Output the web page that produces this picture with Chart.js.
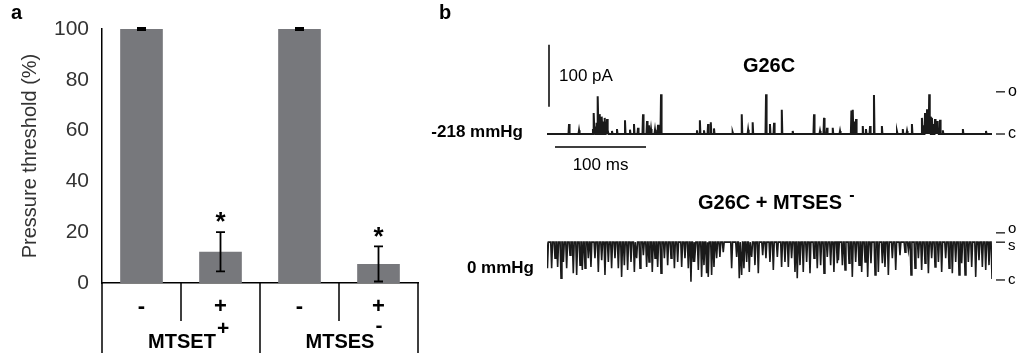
<!DOCTYPE html>
<html>
<head>
<meta charset="utf-8">
<script src="https://cdn.jsdelivr.net/npm/chart.js@4/dist/chart.umd.min.js"></script>
<style>
  html, body { margin: 0; padding: 0; background: #fff; }
  #wrap { position: relative; width: 1024px; height: 353px; overflow: hidden; }
  #barChart { position: absolute; left: 0; top: 0; }
  #traceChart { position: absolute; left: 430px; top: 0; }
</style>
</head>
<body>
<div id="wrap">
  <canvas id="barChart" width="430" height="353"></canvas>
  <canvas id="traceChart" width="594" height="353"></canvas>
</div>
<script>
// ---- panel a data ----
const treatments = ["-", "+", "-", "+"];
const groupNames = ["MTSET", "MTSES"];
const groupCharges = ["+", "-"];
const thresholdMean = [100, 12.3, 100, 7.5];
const thresholdErr = [0.4, 7.7, 0.4, 6.9];
const significant = [false, true, false, true];

// ---- panel b data (time in ms, current in pA) ----
// G26C at -218 mmHg: openings above closed level
const g26cEvents = [
  [24.2, 16], [35.2, 6],
  [50.5, 8], [51.6, 34], [53, 12], [54.5, 18], [56, 61], [57, 14], [58.2, 32], [59.3, 16],
  [60.4, 28], [61.5, 12], [62.6, 20], [63.7, 26], [64.8, 14], [66, 24], [67, 6],
  [71.4, 5], [76.9, 8], [85.7, 22], [91.2, 7], [95.6, 16], [100, 10], [105.5, 32],
  [109.9, 21], [112, 14], [114.3, 8], [118.7, 7], [122, 15], [125.3, 64],
  [164.8, 6], [168, 22], [172.5, 6], [177, 16], [180, 19], [183.5, 9], [204, 3],
  [214, 32], [221, 7], [226, 19], [240.7, 64], [245, 16], [249.5, 18], [258, 39],
  [270, 5], [293.4, 32], [300, 5], [304.4, 26], [307.7, 10], [314, 10],
  [322, 5], [334.5, 38], [336, 39], [337.5, 20], [339.6, 24], [347, 13], [350.5, 8],
  [355, 13], [359.3, 63], [368, 13], [384.6, 4], [391, 8], [395.6, 5], [401, 16],
  [412, 26], [413.5, 14], [415.4, 34], [416.5, 20], [417.6, 40], [418.8, 30], [420, 64],
  [421.2, 28], [423, 26], [424.5, 16], [426.4, 24], [427.5, 12], [428.6, 21], [430, 10],
  [431.9, 23], [435, 6], [457, 8], [482.4, 5]
];
const g26cBase = 0;

// G26C + MTSES- at 0 mmHg: mostly at sub-state, closures downward
const mtsesEvents = [
  [0.5, 19], [5.1, 19], [8.8, 35], [11.7, 21], [15.4, 3], [18, 29], [21.6, 19], [25.3, 40],
  [28.9, 11], [32.6, 8], [36.3, 24], [38.8, 16], [41.8, 19], [45.4, 35], [48.3, 21],
  [52.7, 35], [56.4, 13], [60.1, 32], [63.7, 8], [67.4, 29], [71, 19], [74.7, 35],
  [78.4, 19], [82, 5], [85, 24], [88.6, 16], [92.3, 29], [96, 13], [98.5, 35],
  [102.2, 19], [105.9, 40], [109.5, 21], [112.1, 29], [115.7, 13], [118.7, 35],
  [121.6, 21], [125.3, 11], [129, 35], [132.6, 24], [136.3, 35], [140, 19], [143.6, 29],
  [148, 21], [151.6, 35], [155.3, 19], [158.2, -3], [160.8, 29],
  [162.6, 29], [166.3, 16], [169.9, 5], [172.5, 24], [175.4, 11], [177.2, 5], [180.9, 8],
  [183.5, 21], [186.4, 35], [190, 37], [193.7, 45], [202.9, 19], [208.4, 37], [211.3, 3],
  [213.9, 8], [216.4, 19], [219.4, 29], [222.3, 13], [224.9, 37], [228.5, 24], [232.2, 11],
  [237, 40], [240.6, 35], [245, 29], [248.7, 16], [253.1, 37], [257.8, 21], [261.5, 29],
  [265.2, 21], [268.8, 35], [272.5, 13], [275, 3], [278, 24], [281.6, 13], [285.3, 29],
  [289, 11], [293.4, 35], [297, 19], [300.7, 24], [304.4, 11], [308, 37], [311.7, 24],
  [315.3, 13], [319, 27],
  [320.2, 32], [324.6, 24], [327.5, 16], [331.9, 27], [335.5, 5], [339.2, 29], [342.9, 24],
  [345.8, 13], [349.5, 29], [352.4, 5], [356, 27], [360.5, 8], [364.1, 13], [368.5, 27],
  [371.4, 21], [375.1, 8], [379.5, 35], [383.2, 16], [387.9, 40], [393.4, 45], [397.1, 48],
  [400, 8], [404.4, 19], [408.1, 35], [411.7, 16], [415.4, 27], [419.1, 11], [422.7, 35],
  [426.4, 21], [430.1, 29], [433.7, 13], [438.1, 35], [441.8, 19], [445.4, 11], [449.1, 29],
  [452.8, 8], [455.7, 27], [459.4, 8], [463, 29], [466.7, 21], [471.1, 5], [474.7, 32],
  [478.4, 21], [482.1, 16], [485.7, 24], [489, 3]
];
const mtsesBase = 61;

const traceLength = 489;
const levels1 = [["o", 68], ["c", 0]];
const levels2 = [["o", 76], ["s", 61], ["c", 0]];

const FONT = "'Liberation Sans', Arial, Helvetica, sans-serif";
Chart.defaults.font.family = FONT;

// one event = a brief excursion from the baseline and back
function buildTrace(events, base, half) {
  const pts = [{ x: 0, y: base }];
  events.forEach(([t, v]) => {
    pts.push({ x: t - half, y: base }, { x: t, y: v }, { x: t + half, y: base });
  });
  pts.push({ x: traceLength + 1, y: base });
  return pts;
}

// ---------------- panel a ----------------
const panelA = {
  id: "panelA",
  afterDraw(chart) {
    const ctx = chart.ctx;
    const x = chart.scales.x;
    const y = chart.scales.y;
    const area = chart.chartArea;
    const meta = chart.getDatasetMeta(0);
    ctx.save();
    ctx.strokeStyle = "#000";
    ctx.fillStyle = "#000";
    ctx.lineWidth = 1.8;

    // error bars + asterisks
    meta.data.forEach((bar, i) => {
      const top = y.getPixelForValue(thresholdMean[i] + thresholdErr[i]);
      const bot = y.getPixelForValue(Math.max(0, thresholdMean[i] - thresholdErr[i]));
      ctx.beginPath();
      ctx.moveTo(bar.x, top); ctx.lineTo(bar.x, bot);
      ctx.moveTo(bar.x - 4.5, top); ctx.lineTo(bar.x + 4.5, top);
      ctx.moveTo(bar.x - 4.5, bot); ctx.lineTo(bar.x + 4.5, bot);
      ctx.stroke();
      if (significant[i]) {
        ctx.font = "bold 26px " + FONT;
        ctx.textAlign = "center";
        ctx.textBaseline = "middle";
        ctx.fillText("*", bar.x, top - 9);
      }
    });

    // table of treatments under the axis
    const half = (x.getPixelForValue(1) - x.getPixelForValue(0)) / 2;
    ctx.lineWidth = 1.5;
    ctx.beginPath();
    treatments.forEach((t, i) => {
      const edge = x.getPixelForValue(i) + half;
      const isGroupEdge = (i % 2 === 1);
      ctx.moveTo(edge, area.bottom);
      ctx.lineTo(edge, isGroupEdge ? chart.height : area.bottom + 38);
    });
    ctx.moveTo(area.left, area.bottom);
    ctx.lineTo(area.left, chart.height);
    ctx.stroke();

    ctx.textBaseline = "middle";
    ctx.textAlign = "left";
    groupNames.forEach((g, k) => {
      const cx = (x.getPixelForValue(2 * k) + x.getPixelForValue(2 * k + 1)) / 2;
      ctx.font = "bold 20px " + FONT;
      const w = ctx.measureText(g).width;
      ctx.fillText(g, cx - w / 2 + 1, 342);
      ctx.font = "bold 21px " + FONT;
      ctx.fillText(groupCharges[k], cx + w / 2 + 2, k === 0 ? 329 : 326);
    });
    ctx.restore();
  }
};

new Chart(document.getElementById("barChart"), {
  type: "bar",
  data: {
    labels: treatments,
    datasets: [{
      data: thresholdMean,
      backgroundColor: "#77787c",
      borderWidth: 0,
      barPercentage: 0.54,
      categoryPercentage: 1
    }]
  },
  options: {
    responsive: false,
    animation: false,
    layout: { padding: { top: 29, right: 12, bottom: 30, left: 0 } },
    plugins: { legend: { display: false }, tooltip: { enabled: false } },
    scales: {
      x: {
        grid: { display: false },
        border: { display: true, color: "#000", width: 1.5 },
        ticks: { color: "#000", font: { size: 22, weight: "bold" }, padding: 3, maxRotation: 0 },
        afterFit(s) { s.height = 40; }
      },
      y: {
        min: 0, max: 100,
        grid: { display: false },
        border: { display: true, color: "#000", width: 1.5 },
        ticks: { stepSize: 20, color: "#333", font: { size: 21 }, padding: 5 },
        title: { display: true, text: "Pressure threshold (%)", color: "#333", font: { size: 20 }, padding: { top: 18, bottom: 0 } },
        afterFit(s) { s.width = 102; }
      }
    }
  },
  plugins: [panelA, {
    id: "letterA",
    afterDraw(chart) {
      const ctx = chart.ctx;
      ctx.save();
      ctx.font = "bold 20px " + FONT;
      ctx.fillStyle = "#000";
      ctx.textBaseline = "middle";
      ctx.fillText("a", 11, 13);
      ctx.restore();
    }
  }]
});

// ---------------- panel b ----------------
const panelB = {
  id: "panelB",
  afterDraw(chart) {
    const ctx = chart.ctx;
    const x = chart.scales.x;
    const y1 = chart.scales.y1;
    const y2 = chart.scales.y2;
    ctx.save();
    ctx.fillStyle = "#000";
    ctx.strokeStyle = "#000";

    ctx.font = "bold 20px " + FONT;
    ctx.textBaseline = "middle";
    ctx.textAlign = "left";
    ctx.fillText("b", 9, 13);

    // scale bars: 100 pA and 100 ms
    ctx.lineWidth = 1.5;
    const bx = x.getPixelForValue(2.2);
    ctx.beginPath();
    ctx.moveTo(bx, y1.getPixelForValue(44));
    ctx.lineTo(bx, y1.getPixelForValue(144));
    const hy = y1.getPixelForValue(-21);
    ctx.moveTo(x.getPixelForValue(8.8), hy);
    ctx.lineTo(x.getPixelForValue(108.8), hy);
    ctx.stroke();

    ctx.font = "17px " + FONT;
    ctx.fillText("100 pA", bx + 10, y1.getPixelForValue(93));
    ctx.textAlign = "center";
    ctx.fillText("100 ms", x.getPixelForValue(58.8), hy + 18);

    // titles and pressures
    ctx.font = "bold 20px " + FONT;
    ctx.fillText("G26C", 339, 66);
    ctx.fillText("G26C + MTSES", 340, 203);
    ctx.font = "bold 16px " + FONT;
    ctx.fillText("-", 422, 196);
    ctx.font = "bold 17px " + FONT;
    ctx.textAlign = "right";
    ctx.fillText("-218 mmHg", 93, y1.getPixelForValue(g26cBase) - 2);
    ctx.fillText("0 mmHg", 104, 268);

    // level markers
    const right = chart.chartArea.right;
    ctx.lineWidth = 1.2;
    ctx.textAlign = "left";
    ctx.font = "16px " + FONT;
    levels1.forEach(([name, v]) => {
      const py = y1.getPixelForValue(v);
      ctx.beginPath();
      ctx.moveTo(right + 4, py); ctx.lineTo(right + 13, py);
      ctx.stroke();
      ctx.fillText(name, right + 16, py);
    });
    ctx.font = "15px " + FONT;
    levels2.forEach(([name, v]) => {
      const py = y2.getPixelForValue(v);
      ctx.beginPath();
      ctx.moveTo(right + 4, py); ctx.lineTo(right + 13, py);
      ctx.stroke();
      const off = name === "o" ? -4 : name === "s" ? 4 : 0;
      ctx.fillText(name, right + 16, py + off);
    });
    ctx.restore();
  }
};

new Chart(document.getElementById("traceChart"), {
  type: "line",
  data: {
    datasets: [
      {
        data: buildTrace(g26cEvents, g26cBase, 0.6),
        yAxisID: "y1",
        borderColor: "#1a1a1a",
        borderWidth: 2
      },
      {
        data: buildTrace(mtsesEvents, mtsesBase, 1.0),
        yAxisID: "y2",
        borderColor: "#1a1a1a",
        borderWidth: 1.6
      }
    ]
  },
  options: {
    responsive: false,
    animation: false,
    layout: { padding: { top: 40, right: 32, bottom: 53, left: 117 } },
    elements: { point: { radius: 0 }, line: { tension: 0 } },
    plugins: { legend: { display: false }, tooltip: { enabled: false } },
    scales: {
      x: { type: "linear", min: 0, max: traceLength, display: false },
      y1: { type: "linear", min: -267.7, max: 151.6, display: false },
      y2: { type: "linear", min: -32.3, max: 387.1, display: false }
    }
  },
  plugins: [panelB]
});
</script>
</body>
</html>
